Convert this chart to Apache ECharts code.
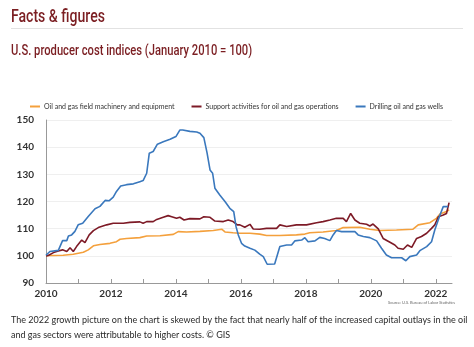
<!DOCTYPE html>
<html><head><meta charset="utf-8">
<script src="https://cdn.jsdelivr.net/npm/echarts@6/dist/echarts.min.js"></script>
<style>html,body{margin:0;padding:0;background:#fff}#c{width:474px;height:347px}</style>
</head><body><div id="c"></div>
<script>
const seriesNames = ['Oil and gas field machinery and equipment','Support activities for oil and gas operations','Drilling oil and gas wells'];
const yTicks = [90,100,110,120,130,140,150];

const machYears = [2010.0,2010.07,2010.23,2010.53,2010.84,2011.15,2011.30,2011.46,2011.66,2011.97,2012.17,2012.28,2012.48,2012.89,2013.10,2013.51,2013.92,2014.07,2014.33,2014.74,2015.15,2015.41,2015.51,2015.76,2015.97,2016.28,2016.58,2016.79,2017.20,2017.71,2017.97,2018.12,2018.53,2018.94,2019.15,2019.66,2019.97,2020.28,2020.79,2021.30,2021.46,2021.82,2022.02,2022.13,2022.33,2022.41];
const machValues = [100,100.1,100.1,100.2,100.6,101.3,102.2,103.7,104.2,104.6,105.2,106.1,106.4,106.7,107.3,107.4,107.9,108.9,108.8,109,109.3,109.8,108.8,108.5,108.3,108.3,108,107.5,107.5,107.7,108,108.5,108.8,109.3,110.4,110.5,109.8,109.3,109.5,109.8,111.4,112.2,113.8,115.4,116.3,116.9];

const suppYears = [2010.0,2010.07,2010.23,2010.38,2010.51,2010.64,2010.74,2010.84,2010.94,2011.10,2011.20,2011.33,2011.46,2011.61,2011.87,2012.07,2012.38,2012.58,2012.89,2012.99,2013.10,2013.30,2013.41,2013.61,2013.76,2013.87,2014.02,2014.12,2014.25,2014.43,2014.74,2014.86,2015.05,2015.20,2015.46,2015.61,2015.76,2015.89,2015.97,2016.12,2016.28,2016.38,2016.58,2016.79,2017.10,2017.20,2017.41,2017.71,2018.02,2018.33,2018.53,2018.74,2018.94,2019.15,2019.25,2019.38,2019.51,2019.66,2019.87,2019.97,2020.07,2020.23,2020.38,2020.59,2020.74,2020.84,2021.0,2021.13,2021.26,2021.41,2021.56,2021.72,2021.87,2021.97,2022.08,2022.23,2022.33,2022.41];
const suppValues = [100,100.1,101.2,101.8,102.2,101.6,103,101.6,103.4,105.8,104.9,107.7,109.3,110.4,111.4,112,112,112.3,112.5,112,112.6,112.6,113.4,114.2,114.8,114.4,113.8,114.2,113.2,113.7,113.6,114.4,114.2,112.8,112.6,113.2,112.6,111.4,111.4,110.5,111.6,109.9,109.8,110.1,110.1,111.4,110.8,111.4,111.4,112.2,112.6,113.2,113.8,113.8,112.6,115.6,113.2,112,111.6,111,111.7,109.9,106.4,105,104,102.8,102.4,104,103.1,106.4,107.1,108.3,110.1,111.4,114.4,115,115.6,119.6];

const drillYears = [2010.0,2010.12,2010.38,2010.51,2010.64,2010.69,2010.79,2010.89,2010.99,2011.13,2011.30,2011.51,2011.66,2011.82,2011.95,2012.07,2012.17,2012.30,2012.48,2012.69,2012.89,2012.99,2013.10,2013.18,2013.30,2013.43,2013.61,2013.82,2014.0,2014.12,2014.21,2014.43,2014.64,2014.74,2014.86,2014.96,2015.05,2015.13,2015.20,2015.35,2015.51,2015.66,2015.78,2015.85,2015.92,2016.02,2016.12,2016.28,2016.43,2016.58,2016.69,2016.81,2017.04,2017.20,2017.41,2017.56,2017.66,2017.87,2017.97,2018.07,2018.28,2018.43,2018.58,2018.74,2018.84,2018.94,2019.10,2019.51,2019.61,2019.77,2019.97,2020.18,2020.33,2020.48,2020.64,2020.79,2020.95,2021.08,2021.20,2021.41,2021.51,2021.72,2021.87,2021.97,2022.13,2022.23,2022.38];
const drillValues = [100.2,101.6,102,105.6,105.6,107.3,107.7,109,111.4,112,114.5,117.3,118.2,120.4,120.3,121.6,123.7,125.7,126.2,126.5,127.3,127.7,130.4,137.8,138.4,141.1,142,142.9,143.9,146.3,146.3,145.8,145.6,145.1,143.5,137.8,131.6,130.4,124.9,122.4,120,117.5,116.3,110.8,107.7,104.6,103.6,102.8,102.1,100.6,99.7,96.9,97,103.4,104,104,105.5,105.8,106.7,105.2,105.5,106.8,106.4,105.6,107.7,109.3,108.9,108.9,107.7,107.1,106.7,105.5,102.8,100.3,99.3,99.3,99.3,98.2,99.7,100.3,101.9,103.4,105.2,109.5,115,118.1,118.1];

const colors = ['#f4a03c','#7d1a26','#3a78bd'];
const zip = (xs, ys) => xs.map((x,i)=>[x, ys[i]]);
const txt = '#333';
const titleColor = '#7b1e22';

const chart = echarts.init(document.getElementById('c'), null, {renderer:'canvas'});
chart.setOption({
  animation:false,
  color: colors,
  graphic:[
    {type:'text', x:11, y:8, scaleX:0.74, scaleY:1, style:{text:'Facts & figures', fontSize:19, fontWeight:500, fontFamily:'Roboto', fill:titleColor, verticalAlign:'top'}},
    {type:'line', shape:{x1:11,y1:28.5,x2:463,y2:28.5}, style:{stroke:'#e2e2e2', lineWidth:1}},
    {type:'text', x:11, y:44, scaleX:0.8, scaleY:1, style:{text:'U.S. producer cost indices (January 2010 = 100)', fontSize:14, fontWeight:500, fontFamily:'Roboto', fill:titleColor, verticalAlign:'top'}},
    {type:'text', right:19, top:301, style:{text:'Source: U.S. Bureau of Labor Statistics', fontSize:4, fill:'#666', fontFamily:'Lato'}},
    {type:'text', left:11, top:313, style:{text:'The 2022 growth picture on the chart is skewed by the fact that nearly half of the increased capital outlays in the oil\nand gas sectors were attributable to higher costs. © GIS', fontSize:9, lineHeight:15, fill:'#2a2a2a', fontFamily:'Lato'}}
  ],
  legend:{
    left:25, top:98, width:460, itemWidth:10, itemHeight:2, itemGap:17, icon:'rect',
    textStyle:{fontSize:7, color:'#333', fontFamily:'Lato', padding:[0,0,0,-1]},
    data: seriesNames
  },
  grid:{left:46, right:22, top:120, bottom:64, containLabel:false},
  xAxis:{
    type:'value', min:2010, max:2022.5, interval:1,
    axisLine:{lineStyle:{color:'#999'}},
    axisTick:{inside:true, length:4, lineStyle:{color:'#999'}},
    splitLine:{show:false},
    axisLabel:{showMaxLabel:false, margin:6, fontSize:10, fontWeight:'bold', color:txt, fontFamily:'Lato',
      formatter: v => (Math.round(v) % 2 === 0 ? String(Math.round(v)) : '')}
  },
  yAxis:{
    type:'value', min:yTicks[0], max:yTicks[yTicks.length-1], interval:10,
    axisLine:{show:true, lineStyle:{color:'#999'}},
    axisTick:{show:false},
    splitLine:{lineStyle:{color:'#efefef'}},
    axisLabel:{margin:12, fontSize:10, fontWeight:'bold', color:txt, fontFamily:'Lato'}
  },
  series:[
    {name:seriesNames[0], type:'line', data:zip(machYears,machValues), showSymbol:false, lineStyle:{width:1.6}, z:2},
    {name:seriesNames[1], type:'line', data:zip(suppYears,suppValues), showSymbol:false, lineStyle:{width:1.6}, z:3},
    {name:seriesNames[2], type:'line', data:zip(drillYears,drillValues), showSymbol:false, lineStyle:{width:1.6}, z:4}
  ]
});
</script></body></html>
